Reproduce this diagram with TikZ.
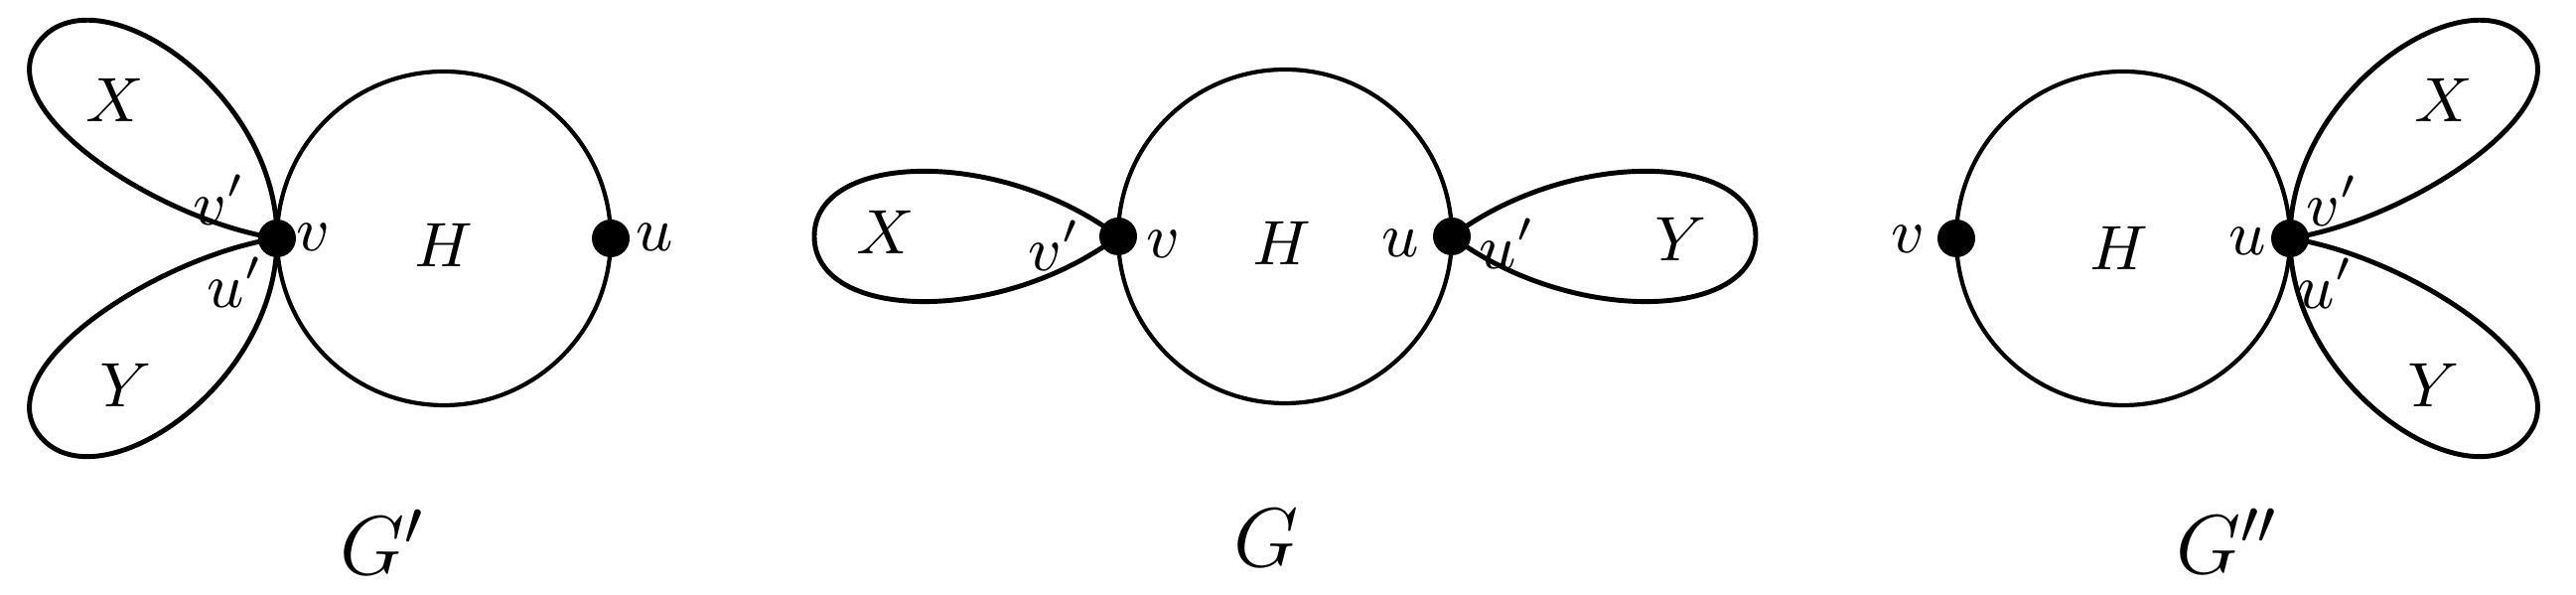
\documentclass[tikz,border=0pt]{standalone}
\usepackage{amsmath}
\usepackage{tikz}
\usetikzlibrary{positioning,backgrounds}

\begin{document}
\begin{tikzpicture}[
    x=0.05mm, y=-0.05mm,
    body/.style={
        circle, draw=black, line width=0.6pt,
        inner sep=0pt, outer sep=0pt, minimum size=16.8mm
    },
    vtx/.style={circle, fill=black, inner sep=0pt, minimum size=1.9mm},
    petal/.style={draw=black, line width=0.7pt},
    lab/.style={font=\fontsize{9}{11}\selectfont, inner sep=0pt},
    glab/.style={font=\fontsize{12.5}{15}\selectfont, inner sep=0pt}
]
\useasboundingbox (0,0) rectangle (2594,599);

% G' (left)
\node[body] (H1) at (447,240) {};
\node[vtx] (v1) at (H1.west) {};
\node[vtx] (u1) at (H1.east) {};
\node[lab] (hH1) at (447,247) {$H$};
\node[lab] (lv1) at (315,239) {$v$};
\node[lab] (lu1) at (659,239) {$u$};
\node[lab] (lX1) at (116,101) {$X$};
\node[lab] (lY1) at (127,388) {$Y$};
\node[lab] (lvp1) at (221,201) {$v'$};
\node[lab] (lup1) at (237,284) {$u'$};
\node[glab] (g1) at (386,546) {$G'$};

% G (middle)
\node[body] (H2) at (1294,238) {};
\node[vtx] (v2) at (H2.west) {};
\node[vtx] (u2) at (H2.east) {};
\node[lab] (hH2) at (1291,245) {$H$};
\node[lab] (lv2) at (1171,246) {$v$};
\node[lab] (lu2) at (1410,245) {$u$};
\node[lab] (lX2) at (892,234) {$X$};
\node[lab] (lY2) at (1693,241) {$Y$};
\node[lab] (lvp2) at (1062,247) {$v'$};
\node[lab] (lup2) at (1518,245) {$u'$};
\node[glab] (g2) at (1275,542) {$G$};

% G'' (right)
\node[body] (H3) at (2138,240) {};
\node[vtx] (v3) at (H3.west) {};
\node[vtx] (u3) at (H3.east) {};
\node[lab] (hH3) at (2134,250) {$H$};
\node[lab] (lv3) at (1921,241) {$v$};
\node[lab] (lu3) at (2263,243) {$u$};
\node[lab] (lX3) at (2461,101) {$X$};
\node[lab] (lY3) at (2451,388) {$Y$};
\node[lab] (lvp3) at (2349,202) {$v'$};
\node[lab] (lup3) at (2342,285) {$u'$};
\node[glab] (g3) at (2243,545) {$G''$};

% petals X and Y
\begin{scope}[on background layer]
\draw[petal] (v1.center) .. controls +(0,-150) and +(58,-68) .. ++(-238,-200)
    .. controls +(-58,68) and +(-120,-18) .. (v1.center);
\draw[petal] (v1.center) .. controls +(0,150) and +(58,68) .. ++(-238,200)
    .. controls +(-58,-68) and +(-120,18) .. (v1.center);

\draw[petal] (v2.center) .. controls +(-120,-90) and +(0,-85) .. ++(-306,0)
    .. controls +(0,85) and +(-120,90) .. (v2.center);
\draw[petal] (u2.center) .. controls +(120,-90) and +(0,-85) .. ++(306,0)
    .. controls +(0,85) and +(120,90) .. (u2.center);

\draw[petal] (u3.center) .. controls +(0,-150) and +(-58,-68) .. ++(238,-200)
    .. controls +(58,68) and +(120,-18) .. (u3.center);
\draw[petal] (u3.center) .. controls +(0,150) and +(-58,68) .. ++(238,200)
    .. controls +(58,-68) and +(120,18) .. (u3.center);
\end{scope}

\end{tikzpicture}
\end{document}
